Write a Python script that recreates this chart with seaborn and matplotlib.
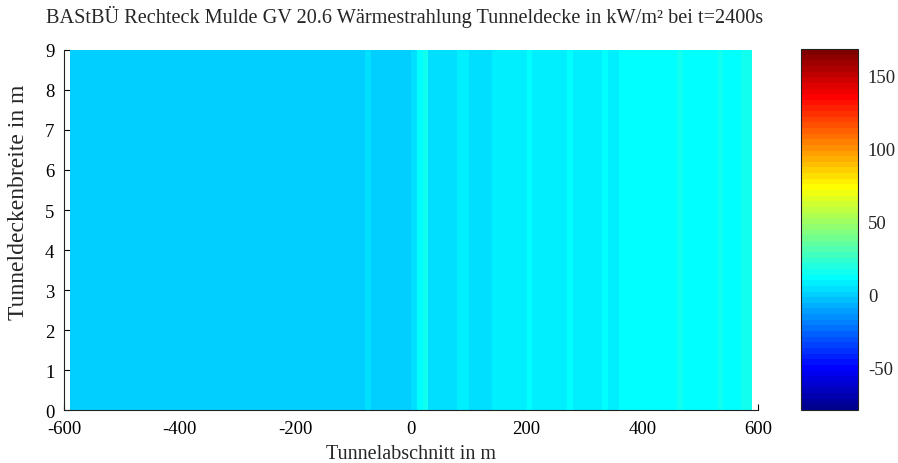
import numpy as np
import pandas as pd
import seaborn as sns
import matplotlib.pyplot as plt
from matplotlib.colors import ListedColormap

# -------------------------------
# Data
# -------------------------------
x_start, x_step = -590, 10          # tunnel section, cell edges every 10 m
y_max = 9                           # ceiling width in m
vmin, vmax = -79, 168               # colour range in kW/m²

# radiation per 10 m section (kW/m²), from x=-590 to x=590
radiation = [
    0.0, 0.0, 0.0, 0.0, 0.0, 0.0, 0.0, 0.0, 0.0, 0.0,
    0.0, 0.0, 0.0, 0.0, 0.0, 0.0, 0.0, 0.0, 0.0, 0.0,
    0.0, 0.0, 0.0, 0.0, 0.0, 0.0, 0.0, 0.0, 0.0, 0.0,
    0.0, 0.0, 0.0, 0.0, 0.0, 0.0, 0.0, 0.0, 0.0, 0.0,
    0.0, 0.0, 0.0, 0.0, 0.0, 0.0, 0.0, 0.0, 0.0, 0.0,
    2.0, 4.5, 2.0, 1.5, 1.5, 1.5, 1.5, 1.5, 1.5, 2.5,
    13.0, 14.0, 4.5, 4.0, 4.0, 4.0, 4.5, 9.0, 6.0, 5.0,
    5.0, 5.0, 5.5, 9.0, 7.0, 6.0, 6.0, 6.0, 7.0, 11.0,
    8.5, 7.0, 7.0, 7.0, 7.5, 9.0, 11.5, 9.0, 8.0, 8.0,
    8.0, 9.5, 11.5, 9.5, 9.0, 10.5, 12.5, 11.0, 11.0, 11.0,
    11.0, 11.0, 11.0, 11.5, 13.0, 14.5, 12.5, 12.0, 12.0, 12.0,
    12.0, 12.5, 14.0, 13.5, 12.5, 13.0, 15.0, 15.0,
]
x_centers = [x_start + x_step * (i + 0.5) for i in range(len(radiation))]

x_ticks = [-600, -400, -200, 0, 200, 400, 600]
y_ticks = list(range(0, 10))
cbar_ticks = [-50, 0, 50, 100, 150]

title = "BAStBÜ Rechteck Mulde GV 20.6 Wärmestrahlung Tunneldecke in kW/m² bei t=2400s"
xlabel = "Tunnelabschnitt in m"
ylabel = "Tunneldeckenbreite in m"


def matlab_jet(m=64):
    # same construction as MATLAB's jet(m)
    n = int(np.ceil(m / 4))
    u = np.concatenate([np.arange(1, n + 1) / n, np.ones(n - 1), np.arange(n, 0, -1) / n])
    g = int(np.ceil(n / 2)) - (m % 4 == 1) + np.arange(1, len(u) + 1)
    r, b = g + n, g - n
    J = np.zeros((m, 3))
    for idx, col in ((r, 0), (g, 1), (b, 2)):
        ok = (idx >= 1) & (idx <= m)
        J[idx[ok] - 1, col] = u[ok]
    return ListedColormap(J)


# -------------------------------
# Plot
# -------------------------------
sns.set_style("ticks")
plt.rcParams["font.family"] = ["Liberation Serif", "DejaVu Serif"]
plt.rcParams["font.size"] = 13.5

df = pd.DataFrame([radiation], columns=x_centers, index=[0])

fig = plt.figure(figsize=(8.98, 4.64), dpi=100)
ax = fig.add_axes([0.0713, 0.1142, 0.7728, 0.7759])
cax = fig.add_axes([0.892, 0.1142, 0.0635, 0.778])

sns.heatmap(df, ax=ax, cbar_ax=cax, cmap=matlab_jet(64), vmin=vmin, vmax=vmax,
            xticklabels=False, yticklabels=False, linewidths=0)

# map data coordinates (m) onto heatmap cell coordinates
to_cx = lambda v: (v - x_start) / x_step
ax.set_xlim(to_cx(-600), to_cx(600))
ax.set_ylim(0, 1)
ax.set_xticks([to_cx(v) for v in x_ticks])
ax.set_xticklabels([str(v) for v in x_ticks])
ax.set_yticks([v / y_max for v in y_ticks])
ax.set_yticklabels([str(v) for v in y_ticks], rotation=0)

ax.tick_params(direction="in", length=4, width=0.8, colors="black", pad=7)
for side in ["top", "right"]:
    ax.spines[side].set_visible(False)
for side in ["left", "bottom"]:
    ax.spines[side].set_visible(True)
    ax.spines[side].set_color("#222222")
    ax.spines[side].set_linewidth(0.8)

ax.set_title(title, fontsize=14.6, x=0.49, pad=20)
ax.set_xlabel(xlabel, fontsize=14.5, labelpad=5)
ax.set_ylabel(ylabel, fontsize=17)
ax.yaxis.set_label_coords(-0.051, 0.58)

# colorbar
cax.set_yticks(cbar_ticks)
cax.set_yticklabels([str(v) for v in cbar_ticks])
cax.tick_params(direction="in", left=True, right=True, labelleft=False,
                labelright=True, length=4, width=0.8, pad=7)
cb = ax.collections[0].colorbar
cb.outline.set_visible(True)
cb.outline.set_linewidth(0.8)
cb.outline.set_edgecolor("#222222")

fig.savefig("out.png", dpi=100)
